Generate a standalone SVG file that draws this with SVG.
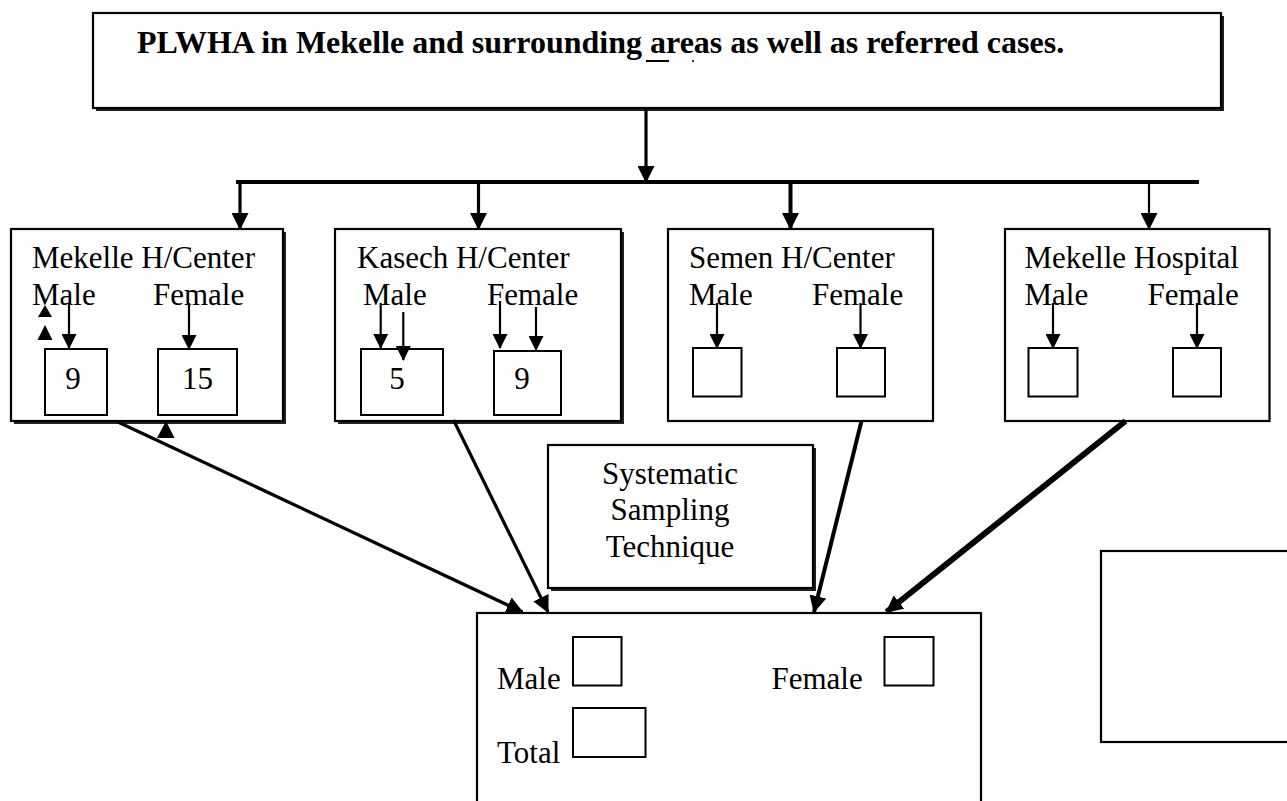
<svg xmlns="http://www.w3.org/2000/svg" width="1287" height="801" viewBox="0 0 1287 801">
<style>
  text { font-family: "Liberation Serif", "Times New Roman", serif; fill: #000; }
  .t { font-size: 31px; }
  .title { font-size: 32px; font-weight: bold; }
  .box { fill: #fff; stroke: #000; stroke-width: 2.2; }
  .shadow { fill: #222; stroke: none; }
  .small { fill: #fff; stroke: #000; stroke-width: 2; }
  .conn { stroke: #000; fill: none; stroke-linecap: butt; }
  .thick { stroke-width: 3.2; }
  .thin { stroke-width: 2.2; }
  .tri { fill: #000; stroke: none; }
</style>
<defs>
  <marker id="ah" markerUnits="userSpaceOnUse" markerWidth="17" markerHeight="17" viewBox="0 0 16 16" refX="15" refY="8" orient="auto">
    <path d="M0,0 L16,8 L0,16 z" fill="#000"/>
  </marker>
  <marker id="ahs" markerUnits="userSpaceOnUse" markerWidth="15" markerHeight="15" viewBox="0 0 16 16" refX="15" refY="8" orient="auto">
    <path d="M0,0 L16,8 L0,16 z" fill="#000"/>
  </marker>
</defs>
<rect width="1287" height="801" fill="#fff"/>

<g id="top">
  <rect class="shadow" x="96" y="16" width="1128" height="95"/>
  <rect class="box" x="93" y="13" width="1128" height="95"/>
  <text class="title" x="137" y="53">PLWHA in Mekelle and surrounding areas as well as referred cases.</text>
  <line x1="646" y1="61" x2="669" y2="61" stroke="#000" stroke-width="2"/>
  <line x1="693" y1="60" x2="693" y2="62" stroke="#000" stroke-width="1.5"/>
</g>

<g id="mekelle-hc">
  <rect class="shadow" x="14" y="232" width="272" height="192"/>
  <rect class="box" x="11" y="229" width="272" height="192"/>
  <text class="t" x="32" y="268">Mekelle H/Center</text>
  <text class="t" x="32" y="305">Male</text>
  <text class="t" x="153" y="305">Female</text>
  <rect class="small" x="45" y="349" width="62" height="66"/>
  <rect class="small" x="158" y="349" width="79" height="66"/>
  <text class="t" x="73" y="389" text-anchor="middle">9</text>
  <text class="t" x="197.5" y="389" text-anchor="middle">15</text>
</g>

<g id="kasech-hc">
  <rect class="shadow" x="338" y="232" width="286" height="192"/>
  <rect class="box" x="335" y="229" width="286" height="192"/>
  <text class="t" x="357" y="268">Kasech H/Center</text>
  <text class="t" x="363" y="305">Male</text>
  <text class="t" x="487" y="305">Female</text>
  <rect class="small" x="361" y="349" width="82" height="66"/>
  <rect class="small" x="494" y="351" width="67" height="64"/>
  <text class="t" x="397" y="389" text-anchor="middle">5</text>
  <text class="t" x="522" y="389" text-anchor="middle">9</text>
</g>

<g id="semen-hc">
  <rect class="box" x="668" y="229" width="265" height="192"/>
  <text class="t" x="689" y="268">Semen H/Center</text>
  <text class="t" x="689" y="305">Male</text>
  <text class="t" x="812" y="305">Female</text>
  <rect class="small" x="693" y="348" width="48.5" height="48.5"/>
  <rect class="small" x="837" y="348" width="48" height="48.5"/>
</g>

<g id="mekelle-hospital">
  <rect class="box" x="1005" y="229" width="264.5" height="192"/>
  <text class="t" x="1024.5" y="268">Mekelle Hospital</text>
  <text class="t" x="1024.5" y="305">Male</text>
  <text class="t" x="1147.5" y="305">Female</text>
  <rect class="small" x="1028.5" y="348" width="49" height="48.5"/>
  <rect class="small" x="1173" y="348" width="48" height="48.5"/>
</g>

<g id="systematic">
  <rect class="shadow" x="551" y="448" width="265" height="143"/>
  <rect class="box" x="548" y="445" width="265" height="143"/>
  <text class="t" x="670" y="484" text-anchor="middle">Systematic</text>
  <text class="t" x="670" y="520" text-anchor="middle">Sampling</text>
  <text class="t" x="670" y="557" text-anchor="middle">Technique</text>
</g>

<g id="total">
  <rect class="box" x="477" y="613" width="504" height="210"/>
  <text class="t" x="497" y="689">Male</text>
  <rect class="small" x="573" y="637" width="48.5" height="48.5"/>
  <text class="t" x="771.5" y="689">Female</text>
  <rect class="small" x="884.5" y="637" width="49" height="48.5"/>
  <text class="t" x="497" y="763">Total</text>
  <rect class="small" x="573" y="708" width="72.5" height="49"/>
</g>

<g id="blank">
  <rect class="box" x="1101" y="551" width="210" height="191"/>
</g>

<g id="connectors">
  <line class="conn thick" x1="646" y1="109" x2="646" y2="182" marker-end="url(#ah)"/>
  <line class="conn" x1="236" y1="182" x2="1199" y2="182" stroke-width="4"/>
  <line class="conn thick" x1="240" y1="182" x2="240" y2="229" marker-end="url(#ah)"/>
  <line class="conn thick" x1="478.5" y1="182" x2="478.5" y2="229" marker-end="url(#ah)"/>
  <line class="conn" x1="790.5" y1="182" x2="790.5" y2="229" stroke-width="4" marker-end="url(#ah)"/>
  <line class="conn thin" x1="1149" y1="182" x2="1149" y2="229" marker-end="url(#ah)"/>

  <line class="conn thin" x1="69" y1="303" x2="69" y2="348" marker-end="url(#ahs)"/>
  <line class="conn thin" x1="189" y1="303" x2="189" y2="349" marker-end="url(#ahs)"/>
  <polygon class="tri" points="45,305 38,317 52,317"/>
  <polygon class="tri" points="45,325 37.5,340 52.5,340"/>
  <polygon class="tri" points="166,421 157,438 174.5,438"/>

  <line class="conn thin" x1="380.7" y1="303" x2="380.7" y2="348" marker-end="url(#ahs)"/>
  <line class="conn thin" x1="403.3" y1="312" x2="403.3" y2="360" marker-end="url(#ahs)"/>
  <line class="conn thin" x1="500" y1="301" x2="500" y2="348" marker-end="url(#ahs)"/>
  <line class="conn thin" x1="536" y1="307" x2="536" y2="350" marker-end="url(#ahs)"/>

  <line class="conn thin" x1="717" y1="303" x2="717" y2="348" marker-end="url(#ahs)"/>
  <line class="conn thin" x1="860.5" y1="303" x2="860.5" y2="348" marker-end="url(#ahs)"/>
  <line class="conn thin" x1="1053" y1="303" x2="1053" y2="348" marker-end="url(#ahs)"/>
  <line class="conn thin" x1="1197" y1="303" x2="1197" y2="348" marker-end="url(#ahs)"/>

  <line class="conn thick" x1="118" y1="422" x2="522.5" y2="612" marker-end="url(#ah)"/>
  <line class="conn thick" x1="453.5" y1="420" x2="548" y2="612" marker-end="url(#ah)"/>
  <line class="conn" x1="861.5" y1="421" x2="814" y2="612" stroke-width="4" marker-end="url(#ah)"/>
  <line class="conn" x1="1125.5" y1="421" x2="886.5" y2="612" stroke-width="6" marker-end="url(#ah)"/>
  <line class="conn" x1="1125.5" y1="421" x2="900" y2="601" stroke="#fff" stroke-width="1.8"/>
</g>
</svg>
